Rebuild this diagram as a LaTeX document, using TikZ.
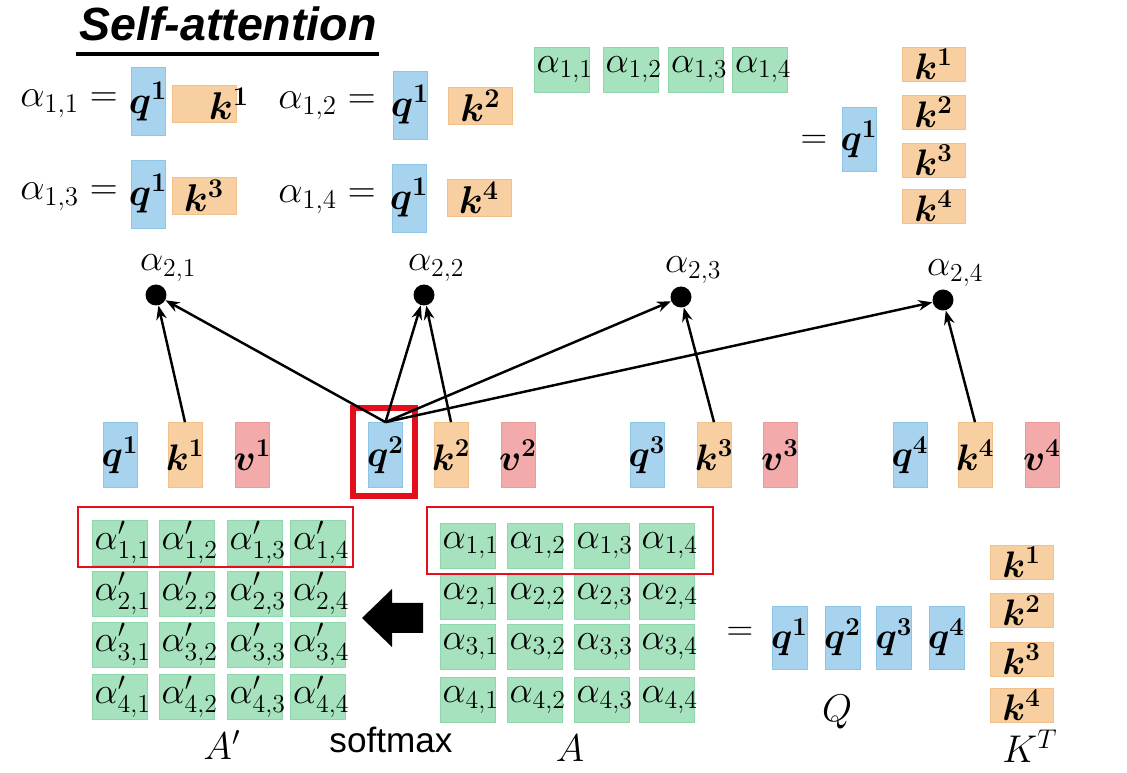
\documentclass[tikz,border=0pt]{standalone}
\usepackage{fix-cm}
\usepackage{amsmath,bm}
\usepackage{fontspec}
\newfontfamily\headfont{Liberation Sans}
\usetikzlibrary{arrows.meta,positioning}

\definecolor{qfill}{HTML}{A7D3EF}
\definecolor{qline}{HTML}{8CC5E6}
\definecolor{kfill}{HTML}{F8CFA0}
\definecolor{kline}{HTML}{F2C08A}
\definecolor{vfill}{HTML}{F2ABAA}
\definecolor{vline}{HTML}{EA9C9B}
\definecolor{afill}{HTML}{A6E2BE}
\definecolor{aline}{HTML}{8ED6AB}
\definecolor{framered}{HTML}{E3101C}

\newcommand\boxtxt[1]{\makebox[0pt]{$#1$}}
\newcommand\celltxt[1]{\makebox[1.1cm][l]{\hspace{1.5pt}$#1$}}

\begin{document}
\begin{tikzpicture}[
    x=0.02cm, y=-0.02cm,
    mfont/.style={font=\fontsize{21}{24}\selectfont},
    qbox/.style={draw=qline, fill=qfill, minimum width=0.68cm, minimum height=1.3cm, inner sep=0pt, mfont},
    kbox/.style={draw=kline, fill=kfill, minimum width=0.68cm, minimum height=1.3cm, inner sep=0pt, mfont},
    vecv/.style={draw=vline, fill=vfill, minimum width=0.68cm, minimum height=1.3cm, inner sep=0pt, mfont},
    kbar/.style={draw=kline, fill=kfill, minimum width=1.26cm, minimum height=0.68cm, inner sep=0pt, mfont},
    abox/.style={draw=aline, fill=afill, minimum width=1.1cm, minimum height=0.9cm, inner sep=0pt, mfont},
    eqtext/.style={font=\fontsize{22}{24}\selectfont, inner sep=0pt, anchor=east},
    dot/.style={circle, fill=black, minimum size=0.42cm, inner sep=0pt},
    frame/.style={draw=framered, line width=1.2pt},
    link/.style={-{Stealth[length=8pt,width=6pt]}, line width=1.4pt},
    lbl/.style={font=\fontsize{22}{24}\selectfont}
  ]
    \useasboundingbox (0,0) rectangle (1127,773);

    % title
    \node[font=\headfont\bfseries\itshape\fontsize{26.5}{30}\selectfont] (title) at (228,24) {Self-attention};
    \draw[line width=1.8pt] (76,54) -- (379,54);

    % alpha_{1,i} = q^1 k^i
    \node[eqtext] (e11) at (118,104) {$\alpha_{1,1} =$};
    \node[qbox, minimum height=1.36cm, font=\fontsize{22}{24}\selectfont] (tq11) at (148,101.5) {\boxtxt{\bm{q^1}}};
    \node[kbar, minimum width=1.28cm, minimum height=0.74cm, font=\fontsize{22}{24}\selectfont] (tk11) at (204,103.5) {\hspace{1cm}\boxtxt{\bm{k^1}}};
    \node[eqtext] (e12) at (376,106) {$\alpha_{1,2} =$};
    \node[qbox, minimum height=1.36cm, font=\fontsize{22}{24}\selectfont] (tq12) at (410,105) {\boxtxt{\bm{q^1}}};
    \node[kbar, minimum width=1.28cm, minimum height=0.74cm, font=\fontsize{22}{24}\selectfont] (tk12) at (480.5,105.5) {\boxtxt{\bm{k^2}}};
    \node[eqtext] (e13) at (118,197) {$\alpha_{1,3} =$};
    \node[qbox, minimum height=1.36cm, font=\fontsize{22}{24}\selectfont] (tq13) at (148,194) {\boxtxt{\bm{q^1}}};
    \node[kbar, minimum width=1.28cm, minimum height=0.74cm, font=\fontsize{22}{24}\selectfont] (tk13) at (204,195.5) {\boxtxt{\bm{k^3}}};
    \node[eqtext] (e14) at (376,200) {$\alpha_{1,4} =$};
    \node[qbox, minimum height=1.36cm, font=\fontsize{22}{24}\selectfont] (tq14) at (409,198) {\boxtxt{\bm{q^1}}};
    \node[kbar, minimum width=1.28cm, minimum height=0.74cm, font=\fontsize{22}{24}\selectfont] (tk14) at (479,198) {\boxtxt{\bm{k^4}}};

    % row of alpha_{1,i} = q^1 times k column
    \foreach \c/\xx in {1/561.5, 2/630.5, 3/696, 4/760}
      \node[abox] (ta\c) at (\xx,69.5) {\celltxt{\alpha_{1,\c}}};
    \node[mfont] (teq) at (814,142) {$=$};
    \node[qbox, minimum height=1.28cm] (tq) at (859,139) {\boxtxt{\bm{q^1}}};
    \foreach \r/\yy in {1/64, 2/112, 3/160, 4/206}
      \node[kbar] (tk\r) at (933.5,\yy) {\boxtxt{\bm{k^\r}}};

    % attention scores of q^2
    \node[dot, label={[mfont, xshift=7pt, label distance=-2pt]above:$\alpha_{2,1}$}] (a21) at (156,295) {};
    \node[dot, label={[mfont, xshift=7pt, label distance=-2pt]above:$\alpha_{2,2}$}] (a22) at (424,295) {};
    \node[dot, label={[mfont, xshift=7pt, label distance=-2pt]above:$\alpha_{2,3}$}] (a23) at (681,297) {};
    \node[dot, label={[mfont, xshift=7pt, label distance=-2pt]above:$\alpha_{2,4}$}] (a24) at (943,300) {};

    % q k v of every input
    \node[qbox] (q1) at (120,455) {\boxtxt{\bm{q^1}}};
    \node[kbox] (k1) at (185,455) {\boxtxt{\bm{k^1}}};
    \node[vecv] (v1) at (252.5,455) {\boxtxt{\bm{v^1}}};
    \node[qbox] (q2) at (385.5,455) {\boxtxt{\bm{q^2}}};
    \node[kbox] (k2) at (451,455) {\boxtxt{\bm{k^2}}};
    \node[vecv] (v2) at (518,455) {\boxtxt{\bm{v^2}}};
    \node[qbox] (q3) at (647,455) {\boxtxt{\bm{q^3}}};
    \node[kbox] (k3) at (714,455) {\boxtxt{\bm{k^3}}};
    \node[vecv] (v3) at (780,455) {\boxtxt{\bm{v^3}}};
    \node[qbox] (q4) at (910,455) {\boxtxt{\bm{q^4}}};
    \node[kbox] (k4) at (975,455) {\boxtxt{\bm{k^4}}};
    \node[vecv] (v4) at (1042,455) {\boxtxt{\bm{v^4}}};
    \draw[framered, line width=3.4pt] (353,408) rectangle (415,496);

    \draw[link] (k1.north) -- (a21);
    \draw[link] (q2.north) -- (a21);
    \draw[link] (q2.north) -- (a22);
    \draw[link] (k2.north) -- (a22);
    \draw[link] (q2.north) -- (a23);
    \draw[link] (k3.north) -- (a23);
    \draw[link] (q2.north) -- (a24);
    \draw[link] (k4.north) -- (a24);

    % A' = softmax(A)
    \foreach \r/\yy in {1/542.5, 2/593.5, 3/644.5, 4/697}
      \foreach \c/\xx in {1/119.5, 2/186.5, 3/254.5, 4/318}
        \node[abox] (ap\r\c) at (\xx,\yy) {\celltxt{\alpha'_{\r,\c}}};
    \foreach \r/\yy in {1/545.5, 2/596.5, 3/646.5, 4/700}
      \foreach \c/\xx in {1/467.5, 2/534.5, 3/601.5, 4/666.5}
        \node[abox] (a\r\c) at (\xx,\yy) {\celltxt{\alpha_{\r,\c}}};
    \draw[frame] (78,507) rectangle (353,567);
    \draw[frame] (427,507) rectangle (713,574);
    \fill (362,618) -- (392,589) -- (392,603) -- (423,603) -- (423,633)
      -- (392,633) -- (392,647) -- cycle;

    % A = Q K^T
    \node[mfont] (beq) at (740,634) {$=$};
    \foreach \c/\xx in {1/789.5, 2/842.5, 3/894, 4/946.5}
      \node[qbox, minimum width=0.7cm, minimum height=1.26cm] (bq\c) at (\xx,637.5) {\boxtxt{\bm{q^\c}}};
    \foreach \r/\yy in {1/562, 2/610.5, 3/659, 4/705}
      \node[kbar] (bk\r) at (1021.5,\yy) {\boxtxt{\bm{k^\r}}};

    \node[lbl] (Ap) at (222,745) {$A'$};
    \node[font=\headfont\fontsize{20}{24}\selectfont] (soft) at (391,740) {softmax};
    \node[lbl] (Am) at (570,748) {$A$};
    \node[lbl] (Q) at (837,712) {$Q$};
    \node[lbl] (KT) at (1030,746) {$K^T$};
  \end{tikzpicture}
\end{document}
